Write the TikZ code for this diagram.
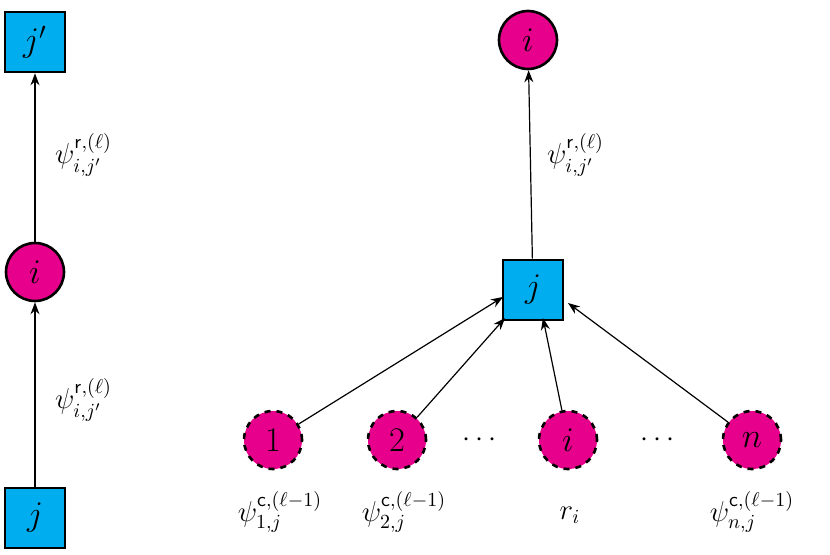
\documentclass[tikz,border=0pt]{standalone}
\usepackage{amsmath}
\usetikzlibrary{arrows.meta}
\definecolor{vmag}{RGB}{230,0,140}
\definecolor{fcyan}{RGB}{0,174,239}
\tikzset{
  var/.style={circle,draw,line width=1.3pt,fill=vmag,minimum size=29pt,inner sep=0pt,font=\LARGE},
  dvar/.style={var,dashed},
  fac/.style={rectangle,draw,line width=1.3pt,fill=fcyan,minimum size=30pt,inner sep=0pt,font=\LARGE},
  msg/.style={-{Stealth[length=6pt,width=4.5pt]},line width=0.6pt},
  lab/.style={font=\Large}
}
\begin{document}
\begin{tikzpicture}[x=0.5pt,y=-0.5pt]
  \useasboundingbox (0,0) rectangle (830,555);
  % left column
  \node[fac] (jp) at (35,42) {$j'$};
  \node[var] (il) at (35,272) {$i$};
  \node[fac] (jl) at (35,518) {$j$};
  \draw[msg] (jl) -- (il);
  \draw[msg] (il) -- (jp);
  \node[lab,anchor=west] (m1) at (48,155) {$\psi^{\mathsf{r},(\ell)}_{i,j'}$};
  \node[lab,anchor=west] (m2) at (48,400) {$\psi^{\mathsf{r},(\ell)}_{i,j'}$};
  % right tree
  \node[var] (ir) at (528,40) {$i$};
  \node[fac] (jr) at (533,290) {$j$};
  \draw[msg] (jr) -- (ir);
  \node[lab,anchor=west] (m3) at (540,155) {$\psi^{\mathsf{r},(\ell)}_{i,j'}$};
  \node[dvar] (v1) at (273,440) {$1$};
  \node[dvar] (v2) at (397,440) {$2$};
  \node[lab] (d1) at (482,440) {$\cdots$};
  \node[dvar] (vi) at (568,440) {$i$};
  \node[lab] (d2) at (660,440) {$\cdots$};
  \node[dvar] (vn) at (752,440) {$n$};
  \draw[msg] (v1) -- (503,297);
  \draw[msg] (v2) -- (505,318);
  \draw[msg] (vi) -- (543,318);
  \draw[msg] (vn) -- (568,303);
  \node[lab] (c1) at (280,512) {$\psi^{\mathsf{c},(\ell-1)}_{1,j}$};
  \node[lab] (c2) at (404,512) {$\psi^{\mathsf{c},(\ell-1)}_{2,j}$};
  \node[lab] (ri) at (570,515) {$r_i$};
  \node[lab] (cn) at (752,512) {$\psi^{\mathsf{c},(\ell-1)}_{n,j}$};
\end{tikzpicture}
\end{document}
